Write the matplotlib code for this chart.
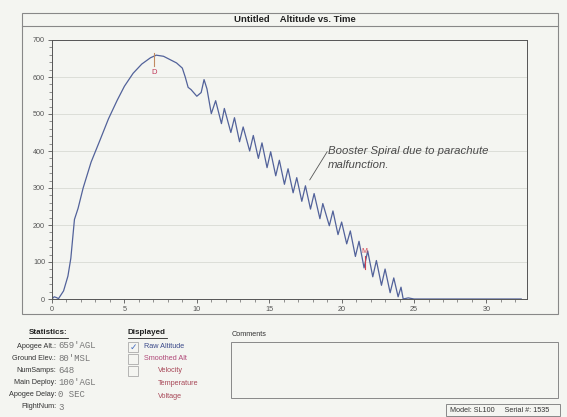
import matplotlib.pyplot as plt
from matplotlib.patches import Rectangle
from matplotlib.lines import Line2D
from matplotlib.ticker import MultipleLocator

plt.rcParams['font.family'] = ['Liberation Sans', 'DejaVu Sans']

# flight trace (seconds, feet AGL)
flight_t = [0, 0.15, 0.3, 0.45, 0.8, 1.1, 1.3, 1.55, 1.8, 2.15, 2.7, 3.3, 3.9,
            4.5, 5.0, 5.6, 6.2, 6.8, 7.2, 7.7, 8.1, 8.6, 9.0, 9.2, 9.4, 9.6,
            10.0, 10.3, 10.5, 10.7,
            11.0, 11.3, 11.7, 11.9, 12.35, 12.6, 12.95, 13.2, 13.65, 13.9,
            14.25, 14.5, 14.85, 15.1, 15.45, 15.7, 16.05, 16.3, 16.65, 16.9,
            17.25, 17.5, 17.85, 18.1, 18.5, 18.7, 19.15, 19.4, 19.75, 20.0,
            20.35, 20.6, 20.95, 21.2, 21.55, 21.8, 22.15, 22.4, 22.75, 23.0,
            23.35, 23.6, 23.9, 24.1, 24.25, 24.6, 25.0, 32.4]
flight_alt = [0, 6, 4, 1, 22, 62, 110, 215, 245, 300, 370, 428, 487,
              537, 575, 610, 635, 652, 659, 656, 648, 638, 624, 600, 572, 566,
              548, 558, 593, 568,
              501, 536, 474, 515, 450, 490, 425, 465, 400, 442,
              380, 422, 355, 398, 333, 375, 310, 352, 287, 328,
              264, 306, 243, 285, 217, 258, 198, 238, 174, 208,
              149, 184, 115, 156, 84, 130, 60, 104, 37, 81,
              17, 57, 6, 32, 0, 3, 0, 0]

x_ticks = [0, 5, 10, 15, 20, 25, 30]
y_ticks = [0, 100, 200, 300, 400, 500, 600, 700]

apogee_t = 7.05
main_t = 21.6

stat_labels = ["Apogee Alt.:", "Ground Elev.:", "NumSamps:", "Main Deploy:",
               "Apogee Delay:", "FlightNum:"]
stat_values = ["659'AGL", "80'MSL", "648", "100'AGL", "0 SEC", "3"]

W, H = 567, 417
bg = '#f4f5f1'


def px(x, y):
    return x / W, 1 - y / H


def hline(x0, x1, y, **kw):
    fig.add_artist(Line2D([x0 / W, x1 / W], [1 - y / H] * 2,
                          transform=fig.transFigure, **kw))


fig = plt.figure(figsize=(W / 100, H / 100), dpi=100, facecolor=bg)

# frame around the graph
fig.add_artist(Rectangle(px(22, 314), 536 / W, 301 / H, transform=fig.transFigure,
                         fill=False, ec='#888888', lw=0.8))
hline(22, 558, 26, color='#888888', lw=0.8)
fig.text(*px(295, 19), "Untitled    Altitude vs. Time", ha='center', va='center',
         fontsize=6.8, fontweight='bold', color='#222222')

l, t = px(52, 40)
r, b = px(527, 299)
ax = fig.add_axes([l, b, r - l, t - b])
ax.set_facecolor(bg)
ax.plot(flight_t, flight_alt, color='#52629a', lw=0.9)
ax.set_xlim(0, 32.8)
ax.set_ylim(0, 700)
ax.set_xticks(x_ticks)
ax.set_yticks(y_ticks)
ax.xaxis.set_minor_locator(MultipleLocator(1))
ax.yaxis.set_minor_locator(MultipleLocator(20))
ax.tick_params(labelsize=5.2, labelcolor='#555555', color='#555555',
               length=3, width=0.6, pad=2)
ax.tick_params(which='minor', length=2, width=0.5, color='#666666')
ax.grid(axis='y', color='#d8dad4', lw=0.6)
ax.set_axisbelow(True)
for s in ax.spines.values():
    s.set_color('#555555')
    s.set_linewidth(0.7)

# apogee and main deploy markers
ax.plot([apogee_t, apogee_t], [631, 664], color='#c08a60', lw=0.8)
ax.text(apogee_t, 622, "D", color='#c03858', fontsize=5.5, ha='center', va='top')
ax.plot([main_t, main_t], [82, 115], color='#d04050', lw=0.8)
ax.text(main_t, 118, "M", color='#d04050', fontsize=5, ha='center', va='bottom')

# handwritten note
ax.plot([17.8, 19.0], [322, 398], color='#555555', lw=0.6)
ax.text(19.05, 401, "Booster Spiral due to parachute", fontsize=8.2,
        style='italic', color='#4a4a4a', va='center')
ax.text(19.05, 363, "malfunction.", fontsize=8.2,
        style='italic', color='#4a4a4a', va='center')

# statistics panel
fig.text(*px(48, 333), "Statistics:", ha='center', va='center', fontsize=5.8,
         fontweight='bold', color='#222222')
hline(29, 68, 338, color='#222222', lw=0.6)
for i, (lab, val) in enumerate(zip(stat_labels, stat_values)):
    y = 346 + i * 12.2
    fig.text(*px(56, y), lab, ha='right', va='center', fontsize=5.2, color='#333333')
    fig.text(*px(58, y), val, ha='left', va='center', fontsize=6.5,
             family='Liberation Mono', color='#777777')

# displayed panel
fig.text(*px(128, 333), "Displayed", ha='left', va='center', fontsize=5.8,
         fontweight='bold', color='#222222')
hline(128, 167, 338, color='#222222', lw=0.6)
for i in range(3):
    y = 347 + i * 12
    fig.add_artist(Rectangle(px(128, y + 5), 10 / W, 10 / H, transform=fig.transFigure,
                             fill=False, ec='#aaaaaa', lw=0.6))
fig.text(*px(133, 347), "\u2713", ha='center', va='center', fontsize=6.5, color='#4a70c0',
         family='DejaVu Sans')
fig.text(*px(144, 347), "Raw Altitude", ha='left', va='center', fontsize=5.2, color='#3b4a8a')
fig.text(*px(144, 359), "Smoothed Alt", ha='left', va='center', fontsize=5.2, color='#b04878')
for i, name in enumerate(["Velocity", "Temperature", "Voltage"]):
    fig.text(*px(158, 371 + i * 12.5), name, ha='left', va='center', fontsize=5.2,
             color='#a84858')

# comments box
fig.text(*px(232, 334), "Comments", ha='left', va='center', fontsize=5.2, color='#333333')
fig.add_artist(Rectangle(px(231, 398), 327 / W, 56 / H, transform=fig.transFigure,
                         fill=False, ec='#888888', lw=0.7))

# model box
fig.add_artist(Rectangle(px(446, 416), 114 / W, 12 / H, transform=fig.transFigure,
                         fill=False, ec='#888888', lw=0.7))
fig.text(*px(450, 410), "Model: SL100     Serial #: 1535", ha='left', va='center',
         fontsize=5.2, color='#333333')

fig.savefig('out.png', dpi=100, facecolor=bg)
